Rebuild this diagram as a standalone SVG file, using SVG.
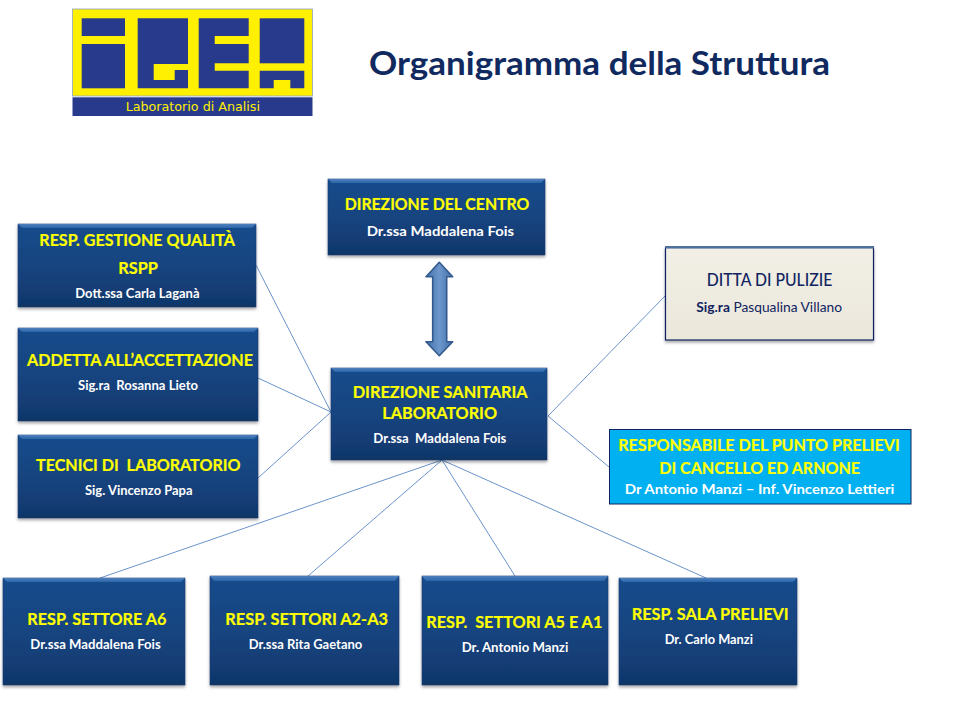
<svg xmlns="http://www.w3.org/2000/svg" width="960" height="720" viewBox="0 0 960 720">
<style>
text{font-family:Lato,Carlito,"Open Sans",sans-serif;font-weight:700;white-space:pre}
.h{fill:#ffff00;font-size:17.5px;stroke:#ffff00;stroke-width:.2}
.s{fill:#ffffff;font-size:13px}
.d{fill:#0f2460}
.box{fill:url(#blue);stroke:#153e70;stroke-width:.6;filter:url(#sh)}
.top{fill:url(#bevel)}
.bot{fill:#123664}
.ln{stroke:#6a94cb;stroke-width:1;fill:none}
.lb{fill:#283a8c}
</style>
<defs>
<linearGradient id="blue" x1="0" y1="0" x2="0" y2="1"><stop offset="0" stop-color="#184c8c"/><stop offset=".55" stop-color="#15437e"/><stop offset="1" stop-color="#10376b"/></linearGradient>
<linearGradient id="bevel" x1="0" y1="0" x2="0" y2="1"><stop offset="0" stop-color="#4f80bd"/><stop offset="1" stop-color="#2b65a8"/></linearGradient>
<linearGradient id="arrow" x1="0" y1="0" x2="1" y2="0"><stop offset="0" stop-color="#3f70a8"/><stop offset=".5" stop-color="#6d97cc"/><stop offset="1" stop-color="#3f70a8"/></linearGradient>
<linearGradient id="cream" x1="0" y1="0" x2="0" y2="1"><stop offset="0" stop-color="#f2efe6"/><stop offset="1" stop-color="#ebe7db"/></linearGradient>
<filter id="sh" x="-5%" y="-5%" width="110%" height="115%"><feDropShadow dx="0" dy="2" stdDeviation="1.5" flood-color="#000" flood-opacity=".35"/></filter>
</defs>

<g id="logo">
<rect x="72.5" y="9" width="240" height="87" fill="#ffef00" stroke="#8fa3c8" stroke-width=".8"/>
<rect class="lb" x="72.5" y="97.3" width="240" height="18.7"/>
<rect class="lb" x="81.7" y="18.3" width="43.3" height="17.7"/>
<rect class="lb" x="81.7" y="44" width="43.3" height="44.3"/>
<path class="lb" d="M137.7 18.3H188V64H153.7V80H174.7V70H188V88.3H137.7Z"/>
<path class="lb" d="M198.7 18.3H248.7V36H214.7V44H248.7V63.3H214.7V70.7H248.7V88.3H198.7Z"/>
<rect class="lb" x="259.7" y="18.3" width="44.6" height="45"/>
<path class="lb" d="M259.7 70.7H304.3V88.3H290.3V80H273.7V88.3H259.7Z"/>
<text x="125.7" y="110.7" textLength="134.3" lengthAdjust="spacingAndGlyphs" style="font-family:'DejaVu Sans',sans-serif;font-weight:400;font-size:13px" fill="#ffef00">Laboratorio di Analisi</text>
</g>

<text id="title" x="369" y="74.5" textLength="461" lengthAdjust="spacingAndGlyphs" style="font-size:33px" fill="#10295f">Organigramma della Struttura</text>

<g id="connectors">
<path class="ln" d="M331 412L256 265M331 412L258 378M331 412L258 478M548 416L665 296M548 416L609 467M442 460L100 578M442 460L308 576M442 460L515 576M442 460L706 578"/>
<path id="double-arrow" d="M439.3 262.3L452.7 276.7H446.7V341.7H452.7L439.3 355.7L426 341.7H432.7V276.7H426Z" fill="url(#arrow)" stroke="#34598c" stroke-width="1.6" stroke-linejoin="round"/>
</g>

<g id="direzione-centro">
<rect class="box" x="328" y="179" width="217" height="76"/>
<polygon class="top" points="328,179 545,179 541,183 332,183"/>
<polygon class="bot" points="328,255 545,255 541,252 332,252"/>
<text class="h" x="344.7" y="210" textLength="184.6" lengthAdjust="spacingAndGlyphs">DIREZIONE DEL CENTRO</text>
<text class="s" x="366.7" y="235.7" textLength="147.3" lengthAdjust="spacingAndGlyphs" style="font-size:14px">Dr.ssa Maddalena Fois</text>
</g>

<g id="direzione-sanitaria">
<rect class="box" x="331" y="368" width="216" height="92"/>
<polygon class="top" points="331,368 547,368 543,372 335,372"/>
<polygon class="bot" points="331,460 547,460 543,457 335,457"/>
<text class="h" x="352.7" y="398" textLength="175" lengthAdjust="spacingAndGlyphs">DIREZIONE SANITARIA</text>
<text class="h" x="382.3" y="418.5" textLength="114.7" lengthAdjust="spacingAndGlyphs">LABORATORIO</text>
<text class="s" x="373.3" y="443" textLength="133" lengthAdjust="spacingAndGlyphs">Dr.ssa  Maddalena Fois</text>
</g>

<g id="resp-qualita">
<rect class="box" x="18" y="224" width="238" height="83"/>
<polygon class="top" points="18,224 256,224 252,228 22,228"/>
<polygon class="bot" points="18,307 256,307 252,304 22,304"/>
<text class="h" x="39.3" y="246" textLength="195.7" lengthAdjust="spacingAndGlyphs">RESP. GESTIONE QUALITÀ</text>
<text class="h" x="118.3" y="274.3" textLength="39.7" lengthAdjust="spacingAndGlyphs">RSPP</text>
<text class="s" x="75.3" y="297.7" textLength="124.2" lengthAdjust="spacingAndGlyphs">Dott.ssa Carla Laganà</text>
</g>

<g id="addetta-accettazione">
<rect class="box" x="18" y="328" width="240" height="93"/>
<polygon class="top" points="18,328 258,328 254,332 22,332"/>
<polygon class="bot" points="18,421 258,421 254,418 22,418"/>
<text class="h" x="27" y="366" textLength="226" lengthAdjust="spacingAndGlyphs">ADDETTA ALL’ACCETTAZIONE</text>
<text class="s" x="78" y="390" textLength="120" lengthAdjust="spacingAndGlyphs">Sig.ra  Rosanna Lieto</text>
</g>

<g id="tecnici">
<rect class="box" x="18" y="435" width="240" height="83"/>
<polygon class="top" points="18,435 258,435 254,439 22,439"/>
<polygon class="bot" points="18,518 258,518 254,515 22,515"/>
<text class="h" x="36" y="471" textLength="204.5" lengthAdjust="spacingAndGlyphs">TECNICI DI  LABORATORIO</text>
<text class="s" x="85" y="495" textLength="107.5" lengthAdjust="spacingAndGlyphs">Sig. Vincenzo Papa</text>
</g>

<g id="ditta-pulizie">
<rect x="665.5" y="247.5" width="208" height="92.5" fill="url(#cream)" stroke="#0f2460" stroke-width="1.2" style="filter:url(#sh)"/>
<rect x="665" y="246" width="209" height="2.5" fill="#4f6f9f"/>
<text class="d" x="706.7" y="286" textLength="125.6" lengthAdjust="spacingAndGlyphs" style="font-weight:500;font-size:17.5px">DITTA DI PULIZIE</text>
<text class="d" x="696.3" y="312" textLength="145.7" lengthAdjust="spacingAndGlyphs" style="font-weight:400;font-size:13.5px"><tspan style="font-weight:700">Sig.ra</tspan> Pasqualina Villano</text>
</g>

<g id="resp-punto-prelievi">
<rect x="609.5" y="429.5" width="301.5" height="74.5" fill="#00b0f0" stroke="#0f2460" stroke-width="1"/>
<text class="h" x="618.3" y="450.7" textLength="281.4" lengthAdjust="spacingAndGlyphs">RESPONSABILE DEL PUNTO PRELIEVI</text>
<text class="h" x="659.3" y="474" textLength="200.7" lengthAdjust="spacingAndGlyphs">DI CANCELLO ED ARNONE</text>
<text class="s" x="624.7" y="494" textLength="269.6" lengthAdjust="spacingAndGlyphs">Dr Antonio Manzi – Inf. Vincenzo Lettieri</text>
</g>

<g id="settore-a6">
<rect class="box" x="3" y="578" width="182" height="107"/>
<polygon class="top" points="3,578 185,578 181,582 7,582"/>
<polygon class="bot" points="3,685 185,685 181,682 7,682"/>
<text class="h" x="27.3" y="624.7" textLength="139" lengthAdjust="spacingAndGlyphs">RESP. SETTORE A6</text>
<text class="s" x="30.3" y="648.7" textLength="130.4" lengthAdjust="spacingAndGlyphs">Dr.ssa Maddalena Fois</text>
</g>

<g id="settori-a2-a3">
<rect class="box" x="210" y="576" width="189" height="109"/>
<polygon class="top" points="210,576 399,576 395,581 214,581"/>
<polygon class="bot" points="210,685 399,685 395,682 214,682"/>
<text class="h" x="225.3" y="624.7" textLength="162.7" lengthAdjust="spacingAndGlyphs">RESP. SETTORI A2-A3</text>
<text class="s" x="248.7" y="648.7" textLength="113.6" lengthAdjust="spacingAndGlyphs">Dr.ssa Rita Gaetano</text>
</g>

<g id="settori-a5-a1">
<rect class="box" x="422" y="576" width="186" height="109"/>
<polygon class="top" points="422,576 608,576 604,581 426,581"/>
<polygon class="bot" points="422,685 608,685 604,682 426,682"/>
<text class="h" x="426.3" y="628.3" textLength="176" lengthAdjust="spacingAndGlyphs">RESP.  SETTORI A5 E A1</text>
<text class="s" x="461.7" y="651.7" textLength="106.6" lengthAdjust="spacingAndGlyphs">Dr. Antonio Manzi</text>
</g>

<g id="sala-prelievi">
<rect class="box" x="619" y="578" width="178" height="107"/>
<polygon class="top" points="619,578 797,578 793,582 623,582"/>
<polygon class="bot" points="619,685 797,685 793,682 623,682"/>
<text class="h" x="631.7" y="620" textLength="157" lengthAdjust="spacingAndGlyphs">RESP. SALA PRELIEVI</text>
<text class="s" x="664.7" y="644" textLength="88.3" lengthAdjust="spacingAndGlyphs">Dr. Carlo Manzi</text>
</g>
</svg>
